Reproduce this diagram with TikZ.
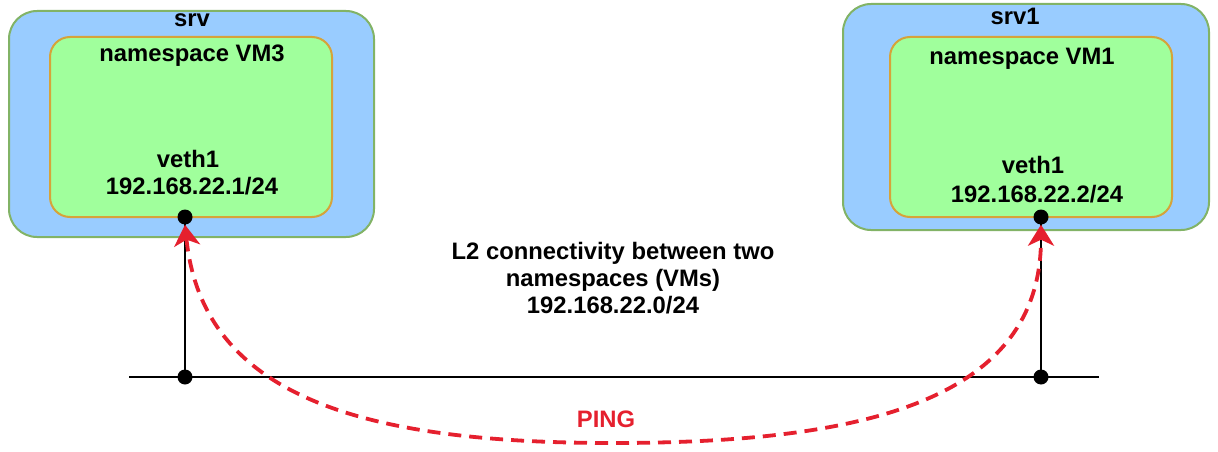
\documentclass[tikz,border=0pt]{standalone}
\usepackage{fontspec}
\setmainfont{Liberation Sans}
\usetikzlibrary{arrows.meta}
\definecolor{outerfill}{HTML}{99CCFF}
\definecolor{outerline}{HTML}{82B366}
\definecolor{innerfill}{HTML}{A0FF9C}
\definecolor{innerline}{HTML}{D6A33A}
\definecolor{pingred}{HTML}{E5202E}
\tikzset{
  outerbox/.style={draw=outerline, fill=outerfill, line width=2pt, rounded corners=28pt},
  innerbox/.style={draw=innerline, fill=innerfill, line width=2pt, rounded corners=20pt},
  lbl/.style={font=\fontsize{23.8}{27}\selectfont\bfseries, inner sep=0pt, anchor=base, align=center},
  port/.style={circle, fill=black, inner sep=0pt, minimum size=15pt},
  wire/.style={draw=black, line width=2.6pt},
  ping/.style={draw=pingred, line width=3.8pt, dash pattern=on 13pt off 8pt,
    {Stealth[length=21pt,width=26pt,inset=6pt]}-{Stealth[length=21pt,width=26pt,inset=6pt]}}
}
\begin{document}
\begin{tikzpicture}[x=1pt,y=-1pt]
\useasboundingbox (0,0) rectangle (1218,452);
% boxes
\draw[outerbox] (9,11) rectangle (374,237);
\draw[innerbox] (50,37) rectangle (332,217);
\draw[outerbox] (843,4) rectangle (1209,230);
\draw[innerbox] (890,37) rectangle (1172,217);
% labels
\node[lbl] (srv) at (192,27) {srv};
\node[lbl] (ns3) at (192,62) {namespace VM3};
\node[lbl] (v3) at (188,167) {veth1};
\node[lbl] (ip3) at (192,194) {192.168.22.1/24};
\node[lbl] (srv1) at (1015,25) {srv1};
\node[lbl] (ns1) at (1022,65) {namespace VM1};
\node[lbl] (v1) at (1033,173) {veth1};
\node[lbl] (ip1) at (1037,202) {192.168.22.2/24};
\node[lbl, anchor=base] (net) at (613,313) {L2 connectivity between two\\namespaces (VMs)\\192.168.22.0/24};
\node[lbl, text=pingred] (pinglbl) at (606,427) {PING};
% network
\coordinate (lend) at (129,377);
\coordinate (rend) at (1099,377);
\path[wire] (lend) -- (rend);
\node[port] (d1) at (185,217) {};
\node[port] (d2) at (185,377) {};
\node[port] (d3) at (1041,217) {};
\node[port] (d4) at (1041,377) {};
\path[wire] (d1.center) -- (d2.center);
\path[wire] (d3.center) -- (d4.center);
% ping
\coordinate (bot) at (613,443);
\path[ping] (d1.south) .. controls (203,400) and (370,443) .. (bot)
  .. controls (865,443) and (1041,400) .. (d3.south);
\end{tikzpicture}
\end{document}
